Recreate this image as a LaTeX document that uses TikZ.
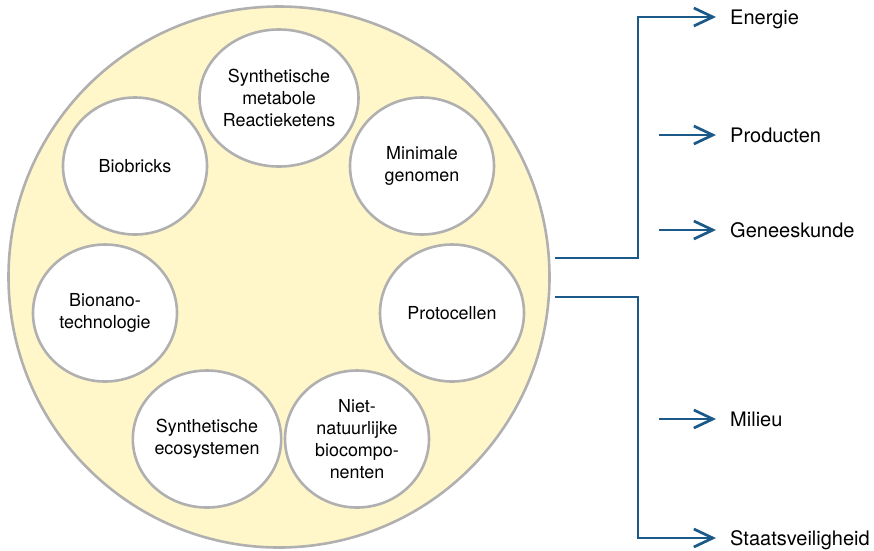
\documentclass[tikz,border=0pt]{standalone}
\usepackage{fontspec}
\setmainfont{TeX Gyre Heros}
\usetikzlibrary{shapes.geometric,arrows.meta}
\definecolor{bigfill}{HTML}{FFF7C9}
\definecolor{rimgray}{HTML}{B0B0B0}
\definecolor{flowblue}{HTML}{1B5A88}
\begin{document}
\begin{tikzpicture}[x=1pt,y=-1pt,
  bigdisc/.style={circle,draw=rimgray,fill=bigfill,line width=2.6pt,minimum size=541pt,inner sep=0pt},
  topic/.style={ellipse,draw=rimgray,fill=white,line width=2.6pt,minimum width=144pt,minimum height=137pt,inner sep=0pt,align=center,font=\fontsize{17.9}{22}\selectfont},
  outcome/.style={anchor=base west,inner sep=0pt,font=\fontsize{20}{24}\selectfont},
  flow/.style={draw=flowblue,line width=2.7pt},
  flowarr/.style={flow,-{Straight Barb[length=19pt,width=18pt,line width=2.7pt]}}]
\useasboundingbox (0,0) rectangle (874,550);
\node[bigdisc] (big) at (279,277) {};
\node[topic] (sm) at (279,98) {Synthetische\\metabole\\Reactieketens};
\node[topic] (mg) at (422,166) {Minimale\\genomen};
\node[topic] (bb) at (135,166) {Biobricks};
\node[topic] (pc) at (452,313) {Protocellen};
\node[topic] (bn) at (105,313) {Bionano-\\technologie};
\node[topic] (se) at (207,439) {Synthetische\\ecosystemen};
\node[topic] (nn) at (357,439) {Niet-\\natuurlijke\\biocompo-\\nenten};
% outcomes
\node[outcome] (en) at (730,24) {Energie};
\node[outcome] (pr) at (730,142) {Producten};
\node[outcome] (ge) at (730,237) {Geneeskunde};
\node[outcome] (mi) at (730,426) {Milieu};
\node[outcome] (st) at (730,545) {Staatsveiligheid};
% connector points
\coordinate (s1) at (555,258);
\coordinate (j1) at (638,258);
\coordinate (s2) at (555,297);
\coordinate (j2) at (638,297);
\coordinate (enE) at (716,17);
\coordinate (prS) at (659,135);
\coordinate (prE) at (716,135);
\coordinate (geS) at (659,230);
\coordinate (geE) at (716,230);
\coordinate (miS) at (659,419);
\coordinate (miE) at (716,419);
\coordinate (stE) at (716,538);
\draw[flowarr] (s1) -- (j1) |- (enE);
\draw[flowarr] (prS) -- (prE);
\draw[flowarr] (geS) -- (geE);
\draw[flowarr] (s2) -- (j2) |- (stE);
\draw[flowarr] (miS) -- (miE);
\end{tikzpicture}
\end{document}
